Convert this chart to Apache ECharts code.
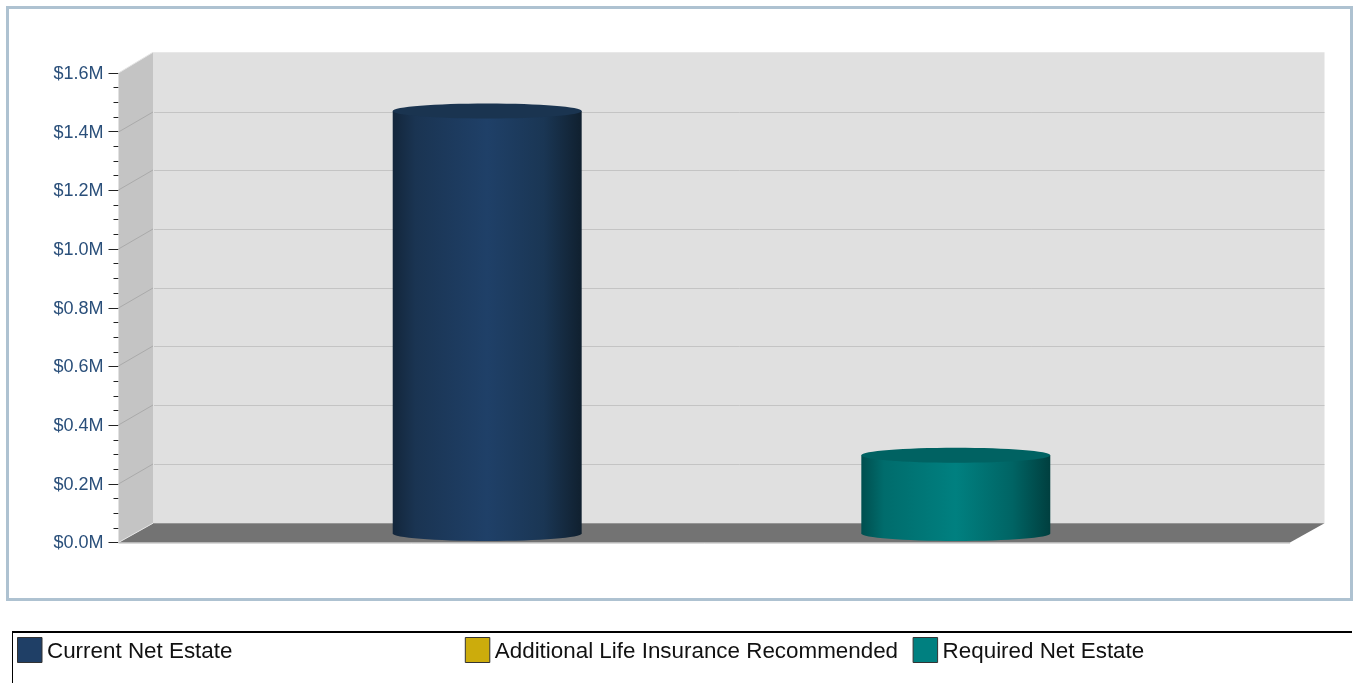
<!DOCTYPE html>
<html><head><meta charset="utf-8">
<style>html,body{margin:0;padding:0;background:#fff}#c{width:1353px;height:683px}</style>
<script src="https://cdn.jsdelivr.net/npm/echarts@6/dist/echarts.min.js"></script>
</head><body><div id="c"></div>
<script>
const categories = ['Net Estate'];
const seriesNames = ['Current Net Estate','Additional Life Insurance Recommended','Required Net Estate'];
const currentNetEstate = [1440000];
const additionalLifeInsurance = [0];
const requiredNetEstate = [267000];
const tickValues = [200000,400000,600000,800000,1000000,1200000,1400000];

const DX = 34.5, DY = 20;
const FONT = '"Liberation Sans", Arial, sans-serif';
const looks = [
  {base:'#1f3f66', top:'#1a3450', stops:['#13263b','#1a3452','#1f4068','#1a3654','#10202f']},
  {base:'#ccac0c', top:'#a88e0a', stops:['#7a6808','#a88e0a','#ccac0c','#a88e0a','#6a5a06']},
  {base:'#008080', top:'#006262', stops:['#004f4f','#006c6c','#008080','#006464','#003f3f']}
];
function grad(st){return {type:'linear',x:0,y:0,x2:1,y2:0,colorStops:[
  {offset:0,color:st[0]},{offset:.12,color:st[1]},{offset:.5,color:st[2]},{offset:.8,color:st[3]},{offset:1,color:st[4]}]};}

function cylinder(idx){
  return function(params, api){
    const v = api.value(1);
    if(!v) return {type:'group',children:[]};
    const band = api.size([1,0])[0];
    const p0 = api.coord([0,0]), p1 = api.coord([0,v]);
    const cx = p0[0] + DX/2 + (idx-1)*band*0.2;
    const w = band*0.1613, rx = w/2, ry = 7.5;
    const yb = p0[1] - 9, yt = yb - (p0[1]-p1[1]);
    const fill = grad(looks[idx].stops);
    return {type:'group',children:[
      {type:'rect',shape:{x:cx-rx,y:yt,width:w,height:yb-yt},style:{fill}},
      {type:'ellipse',shape:{cx:cx,cy:yb,rx,ry},style:{fill}},
      {type:'ellipse',shape:{cx:cx,cy:yt,rx,ry},style:{fill:looks[idx].top}}
    ]};
  };
}
function walls(params, api){
  const top = api.coord([0,api.value(1)])[1], bot = api.coord([0,0])[1];
  const band = api.size([1,0])[0], mid = api.coord([0,0])[0];
  const l = mid-band/2, r = mid+band/2;
  const tb = top-20.7, bb = bot-19.3;
  return {type:'group',children:[
    {type:'polygon',shape:{points:[[l+DX,tb],[r+DX,tb],[r+DX,bb],[l+DX,bb]]},style:{fill:'#e0e0e0'}},
    {type:'polygon',shape:{points:[[l,top],[l+DX,tb],[l+DX,bb],[l,bot]]},style:{fill:'#c4c4c4'}},
    {type:'polygon',shape:{points:[[l,bot],[l+DX,bb],[r+DX,bb],[r,bot]]},style:{fill:'#737373'}},
    {type:'line',shape:{x1:l,y1:bot+.5,x2:r,y2:bot+.5},style:{stroke:'#b4b4b4',lineWidth:1}},
    {type:'line',shape:{x1:l,y1:top,x2:l+DX,y2:tb},style:{stroke:'#e6e6e6',lineWidth:1}},
    {type:'line',shape:{x1:l,y1:bot,x2:l+DX,y2:bb},style:{stroke:'#e6e6e6',lineWidth:1}}
  ]};
}
function gridline(params, api){
  const y = Math.round(api.coord([0,api.value(1)])[1]);
  const band = api.size([1,0])[0], mid = api.coord([0,0])[0];
  const l = mid-band/2, r = mid+band/2;
  return {type:'group',children:[
    {type:'line',shape:{x1:l,y1:y,x2:l+DX,y2:y-DY},style:{stroke:'#aaaaaa',lineWidth:1}},
    {type:'line',shape:{x1:l+DX+1,y1:y-DY+.5,x2:r+DX,y2:y-DY+.5},style:{stroke:'#c4c4c4',lineWidth:1}}
  ]};
}
const values = [currentNetEstate,additionalLifeInsurance,requiredNetEstate];
const chart = echarts.init(document.getElementById('c'),null,{renderer:'canvas'});
chart.setOption({
  animation:false,
  backgroundColor:'#fff',
  textStyle:{fontFamily:FONT},
  grid:{left:118.5,right:63,top:73,bottom:140.5,containLabel:false},
  xAxis:{type:'category',data:categories,axisLine:{show:false},axisTick:{show:false},axisLabel:{show:false}},
  yAxis:{type:'value',min:0,max:1600000,interval:200000,
    axisLine:{show:false},
    axisTick:{show:true,length:10,lineStyle:{color:'#222',width:1}},
    minorTick:{show:true,splitNumber:4,length:5,lineStyle:{color:'#222',width:1}},
    splitLine:{show:false},
    axisLabel:{margin:15,fontFamily:FONT,
      rich:{a:{fontSize:18,color:'#2a4f7a',fontFamily:FONT,padding:[2,0,0,0]}},
      formatter:v=>'{a|$'+(v/1000000).toFixed(1)+'M}'}},
  legend:seriesNames.map((n,i)=>({
    left:17+i*447.8,top:637,itemWidth:24.5,itemHeight:25,itemGap:0,padding:0,selectedMode:false,
    formatter:s=>'{a|'+s+'}',
    textStyle:{rich:{a:{fontSize:22.4,color:'#111',fontFamily:FONT,padding:[4,0,0,0]}}},
    data:[{name:n,icon:'rect',itemStyle:{color:looks[i].base,borderColor:'#333',borderWidth:1}}]
  })),
  graphic:[
    {type:'rect',z:-10,shape:{x:7.5,y:7.5,width:1344,height:592},style:{fill:'none',stroke:'#aec2d1',lineWidth:3}},
    {type:'line',shape:{x1:12,y1:632,x2:1352,y2:632},style:{stroke:'#000',lineWidth:2}},
    {type:'line',shape:{x1:12.5,y1:631,x2:12.5,y2:683},style:{stroke:'#000',lineWidth:1}}
  ],
  series:[
    {type:'custom',name:'walls',silent:true,z:1,clip:false,renderItem:walls,data:[[0,1600000]]},
    {type:'custom',name:'grid',silent:true,z:2,clip:false,renderItem:gridline,data:tickValues.map(v=>[0,v])},
    ...seriesNames.map((n,i)=>({type:'custom',name:n,z:3,clip:false,renderItem:cylinder(i),
      itemStyle:{color:looks[i].base},data:values[i].map((v,k)=>[k,v])}))
  ]
});
</script></body></html>
